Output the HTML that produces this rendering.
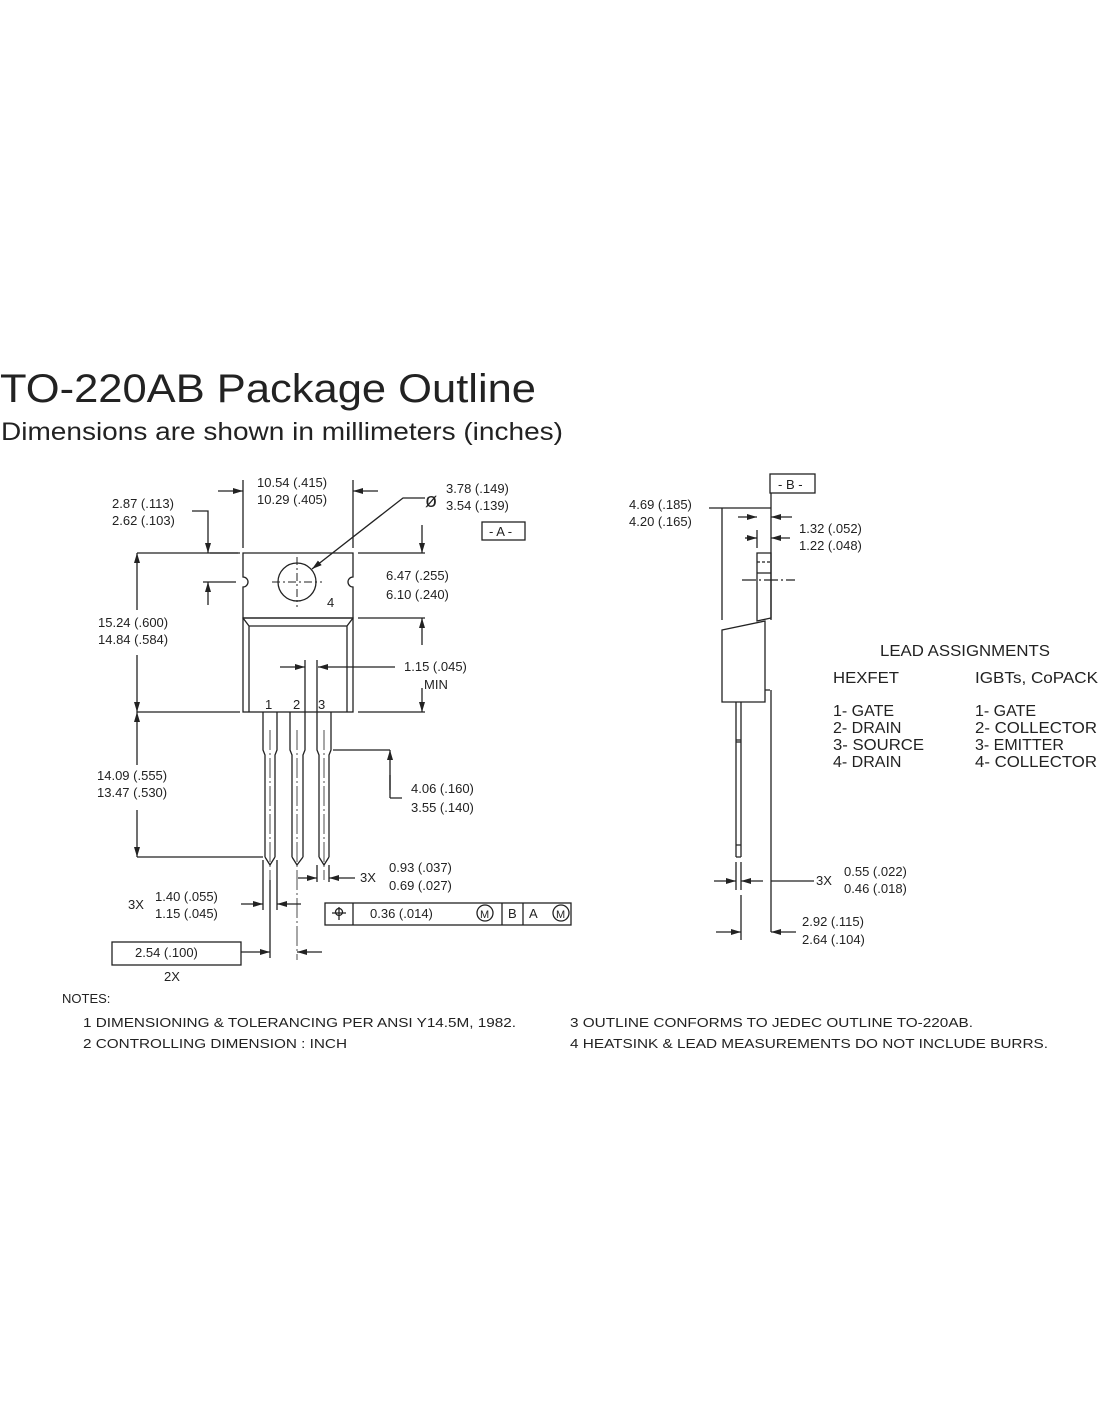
<!DOCTYPE html>
<html><head><meta charset="utf-8"><style>
html,body{margin:0;padding:0;background:#fff;}
svg{display:block}
text{font-family:"Liberation Sans",Arial,sans-serif;fill:#222;}
.d{font-size:13px}
</style></head><body>
<svg width="1100" height="1422" viewBox="0 0 1100 1422" xmlns="http://www.w3.org/2000/svg">
<defs>
<marker id="a" viewBox="0 0 10 6" refX="10" refY="3" markerWidth="10" markerHeight="6" orient="auto" markerUnits="userSpaceOnUse"><path d="M0,0 L10,3 L0,6 z" fill="#222"/></marker>
</defs>
<text x="0" y="402" style="font-size:40px" textLength="536" lengthAdjust="spacingAndGlyphs">TO-220AB Package Outline</text>
<text x="1" y="440" style="font-size:25px" textLength="562" lengthAdjust="spacingAndGlyphs">Dimensions are shown in millimeters (inches)</text>

<g stroke="#222" stroke-width="1.3" fill="none">
<path d="M243,553 H353 V577 A5,5 0 0 0 353,587 V618 H243 V587 A5,5 0 0 0 243,577 Z"/>
<circle cx="297" cy="582" r="19"/>
<path d="M272,582 H322 M297,557 V607" stroke-dasharray="8,3,2,3" stroke-width="1"/>
<rect x="243" y="618" width="110" height="94"/>
<path d="M243,618 L249,626 H347 L353,618 M249,626 V712 M347,626 V712"/>
<path d="M263,712 V750 L265,755 V857 M277,712 V750 L275,755 V857 M265,857 L270,865 L275,857"/>
<path d="M290,712 V750 L292,755 V857 M305,712 V750 L303,755 V857 M292,857 L297,865 L303,857"/>
<path d="M317,712 V750 L319,755 V857 M331,712 V750 L329,755 V857 M319,857 L324,865 L329,857"/>
<path d="M270,730 V880 M297,730 V960 M324,730 V880" stroke-width="0.8" stroke-dasharray="20,3,2,3"/>
<path d="M243,548 V480 M353,548 V480"/>
<path d="M218,491 H243" marker-end="url(#a)"/><path d="M378,491 H353" marker-end="url(#a)"/>
<path d="M192,511 H208 V553" marker-end="url(#a)"/>
<path d="M208,605 V582" marker-end="url(#a)"/>
<path d="M203,582 H236 M210,553 H238"/>
<path d="M425,498 H403 L312,569" marker-end="url(#a)"/>
<path d="M358,553 H425 M358,618 H425 M358,712 H425"/>
<path d="M422,525 V553" marker-end="url(#a)"/>
<path d="M422,645 V618" marker-end="url(#a)"/>
<path d="M422,688 V712" marker-end="url(#a)"/>
<path d="M280,667 H305" marker-end="url(#a)"/><path d="M395,667 H318" marker-end="url(#a)"/>
<path d="M305,660 V712 M317,660 V712"/>
<path d="M137,553 H240 M137,712 H240 M137,857 H263"/>
<path d="M137,610 V553" marker-end="url(#a)"/><path d="M137,655 V712" marker-end="url(#a)"/>
<path d="M137,765 V712" marker-end="url(#a)"/><path d="M137,810 V857" marker-end="url(#a)"/>
<path d="M333,750 H390"/>
<path d="M390,798 H402 M390,798 V775"/><path d="M390,790 V750" marker-end="url(#a)"/>
<path d="M317,865 V882 M329,865 V882"/>
<path d="M298,878 H317" marker-end="url(#a)"/><path d="M355,878 H329" marker-end="url(#a)"/>
<path d="M263,860 V910 M277,860 V910"/>
<path d="M241,904 H263" marker-end="url(#a)"/><path d="M301,904 H277" marker-end="url(#a)"/>
<path d="M241,952 H270" marker-end="url(#a)"/><path d="M322,952 H297" marker-end="url(#a)"/>
<path d="M270,880 V958"/>
<rect x="112" y="942" width="129" height="23"/>
<rect x="325" y="903" width="246" height="22"/>
<path d="M353,903 V925 M502,903 V925 M523,903 V925"/>
<circle cx="485" cy="913" r="8"/><circle cx="561" cy="913" r="8"/>
<path d="M332,913 H346 M339,907 V920"/><circle cx="339" cy="912" r="3.5"/>
<rect x="482" y="522" width="43" height="18"/>

<rect x="770" y="474" width="45" height="19"/>
<path d="M771,493 V620 M771,690 V932"/>
<path d="M757,553 H771 V618 L757,621 Z M757,573 H771" />
<path d="M757,562 H771" stroke-dasharray="3,2"/>
<path d="M722,630 L765,621 V702 H722 Z M765,621 V690 L770,690"/>
<path d="M736,702 V857 M741,702 V857 M736,857 H741 M736,845 H741 M736,740 H741 M736,742 H741"/>
<path d="M742,580 H795" stroke-dasharray="14,3,2,3"/>
<path d="M709,508 H771 M722,508 V620"/>
<path d="M738,517 H757" marker-end="url(#a)"/><path d="M792,517 H771" marker-end="url(#a)"/>
<path d="M745,538 H757" marker-end="url(#a)"/><path d="M790,538 H771" marker-end="url(#a)"/>
<path d="M757,530 V548"/>
<path d="M736,862 V890 M741,862 V890"/>
<path d="M714,881 H736" marker-end="url(#a)"/><path d="M763,881 H741" marker-end="url(#a)"/>
<path d="M814,881 H771"/>
<path d="M741,895 V940"/>
<path d="M716,932 H741" marker-end="url(#a)"/><path d="M796,932 H771" marker-end="url(#a)"/>
</g>

<g class="d">
<text x="257" y="487">10.54 (.415)</text><text x="257" y="504">10.29 (.405)</text>
<text x="112" y="508">2.87 (.113)</text><text x="112" y="525">2.62 (.103)</text>
<text x="425" y="507" style="font-size:20px">ø</text>
<text x="446" y="493">3.78 (.149)</text><text x="446" y="510">3.54 (.139)</text>
<text x="489" y="536">- A -</text>
<text x="386" y="580">6.47 (.255)</text><text x="386" y="599">6.10 (.240)</text>
<text x="327" y="607">4</text>
<text x="98" y="627">15.24 (.600)</text><text x="98" y="644">14.84 (.584)</text>
<text x="404" y="671">1.15 (.045)</text><text x="424" y="689">MIN</text>
<text x="265" y="709">1</text><text x="293" y="709">2</text><text x="318" y="709">3</text>
<text x="97" y="780">14.09 (.555)</text><text x="97" y="797">13.47 (.530)</text>
<text x="411" y="793">4.06 (.160)</text><text x="411" y="812">3.55 (.140)</text>
<text x="360" y="882">3X</text>
<text x="389" y="872">0.93 (.037)</text><text x="389" y="890">0.69 (.027)</text>
<text x="128" y="909">3X</text>
<text x="155" y="901">1.40 (.055)</text><text x="155" y="918">1.15 (.045)</text>
<text x="370" y="918">0.36  (.014)</text>
<text x="480" y="918" style="font-size:11px">M</text><text x="508" y="918">B</text><text x="529" y="918">A</text><text x="556" y="918" style="font-size:11px">M</text>
<text x="135" y="957">2.54 (.100)</text><text x="164" y="981">2X</text>
<text x="778" y="489">- B -</text>
<text x="629" y="509">4.69 (.185)</text><text x="629" y="526">4.20 (.165)</text>
<text x="799" y="533">1.32 (.052)</text><text x="799" y="550">1.22 (.048)</text>
<text x="816" y="885">3X</text>
<text x="844" y="876">0.55 (.022)</text><text x="844" y="893">0.46 (.018)</text>
<text x="802" y="926">2.92 (.115)</text><text x="802" y="944">2.64 (.104)</text>
</g>
<g style="font-size:16px">
<text x="880" y="656" textLength="170" lengthAdjust="spacingAndGlyphs">LEAD ASSIGNMENTS</text>
<text x="833" y="683" textLength="66" lengthAdjust="spacingAndGlyphs">HEXFET</text>
<text x="975" y="683" textLength="123" lengthAdjust="spacingAndGlyphs">IGBTs, CoPACK</text>
<text x="833" y="716">1- GATE</text>
<text x="833" y="733">2- DRAIN</text>
<text x="833" y="750" textLength="91" lengthAdjust="spacingAndGlyphs">3- SOURCE</text>
<text x="833" y="767">4- DRAIN</text>
<text x="975" y="716">1- GATE</text>
<text x="975" y="733" textLength="122" lengthAdjust="spacingAndGlyphs">2- COLLECTOR</text>
<text x="975" y="750">3- EMITTER</text>
<text x="975" y="767" textLength="122" lengthAdjust="spacingAndGlyphs">4- COLLECTOR</text>
</g>
<g class="d">
<text x="62" y="1003">NOTES:</text>
<text x="83" y="1027" textLength="433" lengthAdjust="spacingAndGlyphs">1  DIMENSIONING &amp; TOLERANCING PER ANSI Y14.5M, 1982.</text>
<text x="83" y="1048" textLength="264" lengthAdjust="spacingAndGlyphs">2  CONTROLLING DIMENSION : INCH</text>
<text x="570" y="1027" textLength="403" lengthAdjust="spacingAndGlyphs">3  OUTLINE CONFORMS TO JEDEC OUTLINE TO-220AB.</text>
<text x="570" y="1048" textLength="478" lengthAdjust="spacingAndGlyphs">4  HEATSINK &amp; LEAD MEASUREMENTS DO NOT INCLUDE BURRS.</text>
</g>
</svg>
</body></html>
